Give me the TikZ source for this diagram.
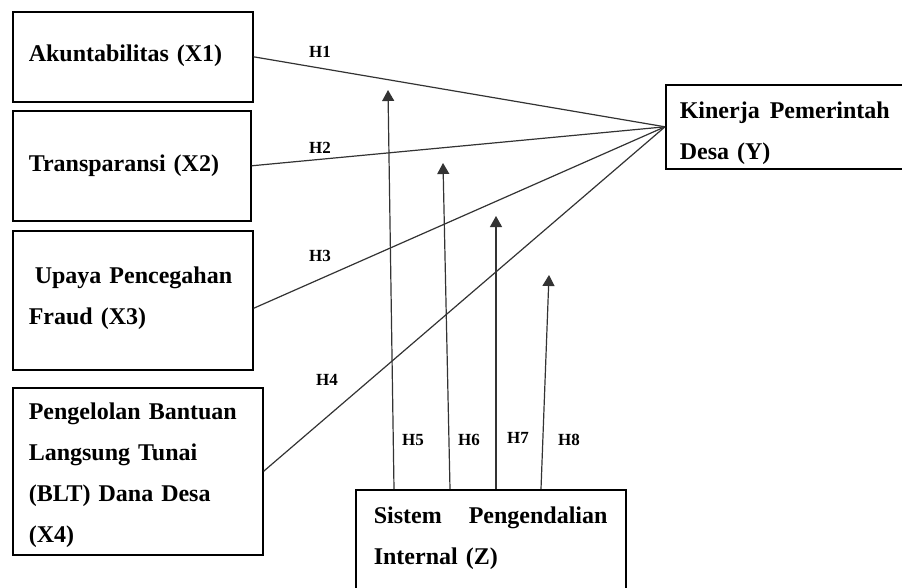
\documentclass[tikz,border=0pt]{standalone}
\usepackage{fontspec}
\setmainfont{Liberation Serif}
\usepackage{tikz}
\usetikzlibrary{arrows.meta}

\tikzset{
  var/.style={draw=black, line width=1.6pt, anchor=north west, inner xsep=16pt,
    align=left, font=\fontsize{24}{41}\selectfont\bfseries},
  hyp/.style={font=\fontsize{17}{20}\selectfont\bfseries},
  link/.style={draw=black!80, line width=1.2pt},
  modline/.style={draw=black!80, line width=1.2pt, -{Triangle[width=12pt,length=11pt]}}
}

\begin{document}
\begin{tikzpicture}[x=1pt,y=-1pt]
                \useasboundingbox (0,0) rectangle (902,587);
                \fill [white] (0,0) rectangle (902,587);
                \node [var, text width=208pt, minimum height=90pt] (akun) at (12,11) {Akuntabilitas (X1)\rule[-8pt]{0pt}{8pt}};
                \node [var, text width=206pt, minimum height=110pt] (trans) at (12,110) {Transparansi (X2)};
                \node [var, text width=208pt, minimum height=139pt] (fraud) at (12,230) {\hspace{6pt}Upaya Pencegahan\\Fraud (X3)\rule[-10pt]{0pt}{10pt}};
                \node [var, text width=218pt, minimum height=167pt] (blt) at (12,387) {\rule{0pt}{24pt}Pengelolan Bantuan\\Langsung Tunai\\(BLT) Dana Desa\\(X4)};
                \node [var, inner xsep=14pt, text width=222pt, minimum height=84pt] (kinerja) at (665,84) {\rule{0pt}{30pt}\mbox{Kinerja\hspace{10pt}Pemerintah}\\Desa (Y)};
                \node [var, inner xsep=18pt, text width=234pt, minimum height=132pt] (spi) at (355,489) {\mbox{Sistem\hspace{27pt}Pengendalian}\\Internal (Z)\\\mbox{}};
                \coordinate (t5) at (388,90);
                \coordinate (t6) at (443,163);
                \coordinate (t7) at (496,216);
                \coordinate (t8) at (549,275);
                \draw [link] (akun.east) to (kinerja.west);
                \draw [link] (trans.east) to (kinerja.west);
                \draw [link] ([yshift=-8pt]fraud.east) to (kinerja.west);
                \draw [link] (blt.east) to (kinerja.west);
                \draw [modline] ([xshift=39pt]spi.north west) to (t5);
                \draw [modline] ([xshift=95pt]spi.north west) to (t6);
                \draw [modline] ([xshift=141pt]spi.north west) to (t7);
                \draw [modline] ([xshift=186pt]spi.north west) to (t8);
                \node [hyp] (h1) at (320,52) {H1};
                \node [hyp] (h2) at (320,148) {H2};
                \node [hyp] (h3) at (320,256) {H3};
                \node [hyp] (h4) at (327,380) {H4};
                \node [hyp] (h5) at (413,440) {H5};
                \node [hyp] (h6) at (469,440) {H6};
                \node [hyp] (h7) at (518,438) {H7};
                \node [hyp] (h8) at (569,440) {H8};
\end{tikzpicture}
\end{document}
